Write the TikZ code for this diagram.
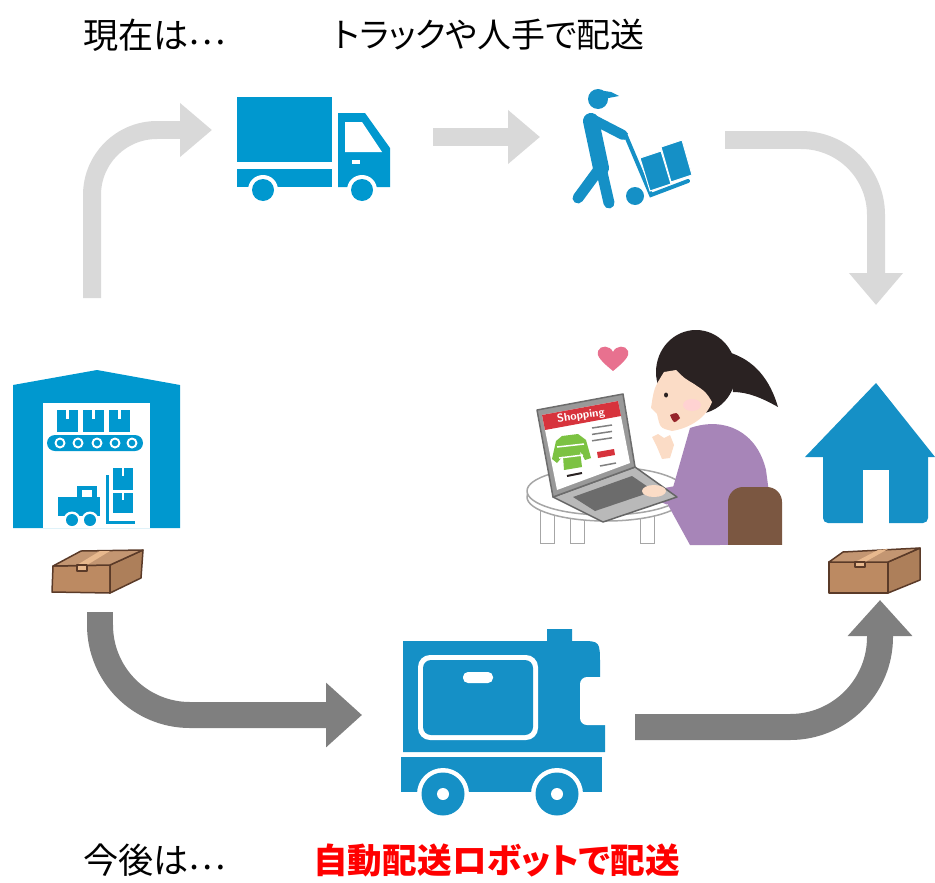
\documentclass[tikz,border=0pt]{standalone}
\usepackage{fontspec}
\usetikzlibrary{arrows.meta}
\newfontfamily\jp[RawFeature=+palt]{Noto Sans CJK JP}
\newcommand{\pts}{\raisebox{0.11em}{⋯}}

\definecolor{bleu}{HTML}{0098CF}
\definecolor{bleuf}{HTML}{1590C6}
\definecolor{gris}{HTML}{D9D9D9}
\definecolor{grisf}{HTML}{7F7F7F}
\definecolor{carton}{HTML}{BC8A62}
\definecolor{brun}{HTML}{5A3A28}
\definecolor{scotch}{HTML}{E8B98E}
\definecolor{peau}{HTML}{FBDCC6}
\definecolor{cheveux}{HTML}{2A2222}
\definecolor{pull}{HTML}{A785B8}
\definecolor{chaise}{HTML}{7B5741}
\definecolor{coeur}{HTML}{E8718F}
\definecolor{vert}{HTML}{7CC242}
\definecolor{rouge}{HTML}{D7333C}

\tikzset{
  fleche/.style={draw=gris, line width=0.36cm, rounded corners=1.3cm,
    -{Triangle[length=0.64cm,width=1.04cm]}},
  flechef/.style={draw=grisf, line width=0.52cm, rounded corners=1.8cm,
    -{Triangle[length=0.72cm,width=1.25cm]}},
  texte/.style={anchor=west, inner sep=0pt, font=\jp\fontsize{20}{24}\selectfont},
}

\begin{document}
\begin{tikzpicture}[x=0.02cm,y=-0.02cm]

            \useasboundingbox (0,0) rectangle (935,882);

            % Textes
            \node[texte] (T1) at (83,35) {現在は\pts};
            \node[texte, font=\jp\fontsize{19.3}{24}\selectfont] (T2) at (333,35) {トラックや人手で配送};
            \node[texte] (B1) at (83,860) {今後は\pts};
            \node[texte, text=red, font=\jp\bfseries\fontsize{19.7}{24}\selectfont] (B2) at (313,860) {自動配送ロボットで配送};

            % Extrémités des flèches
            \coordinate (E1) at (92,298);  \coordinate (C1) at (92,130);  \coordinate (F1) at (212,130);
            \coordinate (E2) at (433,137); \coordinate (F2) at (540,137);
            \coordinate (E3) at (725,140); \coordinate (C3) at (876,140); \coordinate (F3) at (876,305);
            \coordinate (E4) at (100,612); \coordinate (C4) at (100,715); \coordinate (F4) at (362,715);
            \coordinate (E5) at (635,727); \coordinate (C5) at (880,727); \coordinate (F5) at (880,600);

            % Flèches
            \draw[fleche] (E1) -- (C1) -- (F1);
            \draw[fleche] (E2) -- (F2);
            \draw[fleche, rounded corners=1.5cm] (E3) -- (C3) -- (F3);
            \draw[flechef] (E4) -- (C4) -- (F4);
            \draw[flechef] (E5) -- (C5) -- (F5);

            % Camion
            \fill[bleu] (237,97) rectangle (332,162);
            \fill[bleu] (237,169) rectangle (332,187);
            \fill[bleu] (338,113) -- (365,113) -- (390,148) -- (390,187) -- (338,187) -- cycle;
            \fill[white] (345,122) -- (362,122) -- (382,152) -- (345,152) -- cycle;
            \fill[white] (352,160) rectangle (360,164);
            \foreach \x in {263,362} {
              \fill[white] (\x,190) circle (15);
              \fill[bleu] (\x,190) circle (11);
            }

            % Livreur
            \fill[bleuf] (598,99) circle (10);
            \fill[bleuf] (598,90) -- (611,92) -- (619,96) -- (598,100) -- cycle;
            \draw[bleuf, line width=0.32cm, line cap=round] (591,121) -- (601,168);
            \draw[bleuf, line width=0.22cm, line cap=round] (600,168) -- (578,198);
            \draw[bleuf, line width=0.22cm, line cap=round] (601,168) -- (609,203);
            \draw[bleuf, line width=0.2cm, line cap=round] (594,120) -- (623,135);
            \draw[bleuf, line width=0.08cm, line cap=round] (626,136) -- (651,195) -- (688,181);
            \fill[bleuf] (635,196) circle (9);
            \fill[bleuf, draw=white, line width=0.02cm] (640,158) -- (661,151) -- (671,184) -- (650,191) -- cycle;
            \fill[bleuf, draw=white, line width=0.02cm] (661,147) -- (682,140) -- (692,175) -- (671,182) -- cycle;

            % Entrepôt
            \fill[bleu] (13,385) -- (97,370) -- (180,385) -- (180,528) -- (13,528) -- cycle;
            \fill[white] (43,403) rectangle (150,528);
            \foreach \x in {57,83,109} {
              \fill[bleu] (\x,410) rectangle (\x+21,432);
              \fill[white] (\x+9,410) rectangle (\x+12,419);
            }
            \fill[bleu, rounded corners=0.16cm] (47,435) rectangle (143,451);
            \foreach \x in {60,78,97,115,132} {
              \fill[white] (\x,443) circle (5.5);
              \fill[bleu] (\x,443) circle (3.3);
            }
            \fill[bleu] (58,497) rectangle (100,516);
            \fill[bleu] (77,486) rectangle (97,499);
            \fill[white] (82,490) rectangle (92,497);
            \draw[bleu, line width=0.06cm] (107,475) -- (107,522) -- (135,522);
            \fill[bleu] (113,493) rectangle (133,513);
            \fill[bleu] (113,468) rectangle (133,490);
            \fill[white] (122,468) rectangle (124,476);
            \fill[white] (122,493) rectangle (124,500);
            \foreach \x in {72,90} {
              \fill[white] (\x,520) circle (8.5);
              \fill[bleu] (\x,520) circle (6);
            }

            % Cartons
            \begin{scope}[draw=brun, line width=0.03cm, line join=round]
              \filldraw[fill=carton] (53,566) -- (110,565) -- (110,593) -- (52,592) -- cycle;
              \filldraw[fill=carton!92!black] (110,565) -- (143,550) -- (141,578) -- (110,593) -- cycle;
              \filldraw[fill=carton!90!white] (53,566) -- (81,551) -- (143,550) -- (110,565) -- cycle;
              \fill[scotch] (77,565) -- (87,565) -- (110,551) -- (100,551) -- cycle;
              \filldraw[fill=scotch] (77,565) rectangle (87,571);

              \filldraw[fill=carton] (829,562) -- (888,562) -- (888,593) -- (829,593) -- cycle;
              \filldraw[fill=carton!92!black] (888,562) -- (920,548) -- (920,580) -- (888,593) -- cycle;
              \filldraw[fill=carton!90!white] (829,562) -- (843,552) -- (920,548) -- (888,562) -- cycle;
              \fill[scotch] (855,562) -- (865,562) -- (888,549) -- (878,550) -- cycle;
              \filldraw[fill=scotch] (855,562) rectangle (865,567);
            \end{scope}

            % Maison
            \fill[bleuf] (876,383) -- (935,457) -- (805,457) -- cycle;
            \fill[bleuf, rounded corners=0.1cm] (823,450) rectangle (928,523);
            \fill[white] (863,470) rectangle (889,524);

            % Robot de livraison
            \fill[bleuf] (403,641) -- (547,641) -- (547,629) -- (572,629) -- (572,641) -- (580,641)
              .. controls (600,641) .. (600,665) -- (600,725) -- (605,725) -- (605,752) -- (403,752) -- cycle;
            \fill[white, rounded corners=0.14cm] (580,677) rectangle (620,725);
            \fill[white, rounded corners=0.24cm] (418,655) rectangle (538,740);
            \fill[bleuf, rounded corners=0.16cm] (423,660) rectangle (533,735);
            \fill[white, rounded corners=0.1cm] (463,672) rectangle (493,683);
            \fill[bleuf] (401,757) rectangle (602,792);
            \foreach \x in {443,557} {
              \fill[white] (\x,794) circle (26);
              \fill[bleuf] (\x,794) circle (21.5);
              \fill[white] (\x,794) circle (6);
            }

            % Table
            \foreach \x in {540,570,640} {
              \filldraw[fill=white, draw=gray!70] (\x,505) rectangle (\x+14,543);
            }
            \filldraw[fill=white, draw=gray!70, line width=0.03cm] (606,497) ellipse (79 and 24);
            \filldraw[fill=white, draw=gray!70, line width=0.03cm] (606,491) ellipse (79 and 24);

            % Personne
            \fill[pull] (690,428) .. controls (725,416) and (757,432) .. (766,470) -- (776,545) -- (690,545) -- (668,505) -- cycle;
            \draw[pull, line width=0.34cm, line cap=round, line join=round] (702,450) -- (690,492) -- (668,496);

            % Ordinateur
            \filldraw[fill=gray!55, draw=gray!80!black, line width=0.03cm, line join=round]
              (553,497) -- (635,467) -- (677,497) -- (603,522) -- cycle;
            \fill[gray!85!black] (573,497) -- (632,476) -- (654,491) -- (595,511) -- cycle;
            \filldraw[fill=gray!80, draw=gray!85!black, line width=0.03cm, line join=round]
              (537,410) -- (623,394) -- (635,467) -- (553,497) -- cycle;
            \fill[white] (542,415) -- (618,401) -- (630,463) -- (557,490) -- cycle;
            \fill[rouge] (542,415) -- (618,401) -- (621,416) -- (545,430) -- cycle;
            \node[text=white, font=\sffamily\bfseries\fontsize{6.5}{7}\selectfont, rotate=9, inner sep=0pt]
              (S) at (581,416) {Shopping};
            \fill[vert] (562,436) -- (578,434) -- (586,440) -- (591,458) -- (585,460) -- (580,451) -- (582,467)
              -- (564,470) -- (563,456) -- (557,463) -- (552,459) -- (556,441) -- cycle;
            \draw[white, line width=0.03cm] (557,447) -- (584,444);
            \draw[white, line width=0.03cm] (559,458) -- (583,455);
            \foreach \y in {0,8,16} {
              \draw[gray, line width=0.03cm] (592,428-\y*0.2+\y) -- (612,425-\y*0.2+\y);
            }
            \fill[rouge] (597,452) -- (614,449) -- (615,455) -- (598,458) -- cycle;
            \draw[gray, line width=0.03cm] (600,466) -- (616,463);
            \draw[cheveux, line width=0.04cm] (567,476) -- (582,473);

            % Mains et chaise
            \fill[peau] (654,491) ellipse (12 and 6);
            \fill[peau] (657,447) -- (652,437) -- (658,434) -- (664,438) -- (670,435) -- (674,445) -- (670,458) -- (662,459) -- cycle;
            \fill[chaise, rounded corners=0.3cm] (728,487) -- (782,487) -- (782,560) -- (728,560) -- cycle;
            \fill[white] (720,545) rectangle (790,570);

            % Tête
            \fill[cheveux] (778,407) .. controls (770,380) and (755,360) .. (728,352) -- (733,392)
              .. controls (748,392) and (762,398) .. cycle;
            \fill[cheveux] (696,372) ellipse (40 and 42);
            \fill[peau] (664,372) .. controls (654,388) .. (651,408) -- (657,414) .. controls (660,428) .. (672,431)
              .. controls (690,428) and (706,418) .. (712,402) .. controls (706,392) .. (694,384)
              .. controls (684,378) .. (676,370) -- cycle;
            \fill[pink!70] (692,405) ellipse (9 and 6);
            \fill[cheveux] (666,395) ellipse (2 and 2.5);
            \fill[rouge!70!black] (670,415) .. controls (677,412) .. (680,418) .. controls (674,424) .. cycle;

            % Coeur
            \fill[coeur] (613,371) .. controls (602,362) and (596,356) .. (598,351)
              .. controls (600,345) and (610,345) .. (613,352)
              .. controls (616,345) and (626,345) .. (628,351)
              .. controls (630,356) and (624,362) .. cycle;

            \end{tikzpicture}
\end{document}
